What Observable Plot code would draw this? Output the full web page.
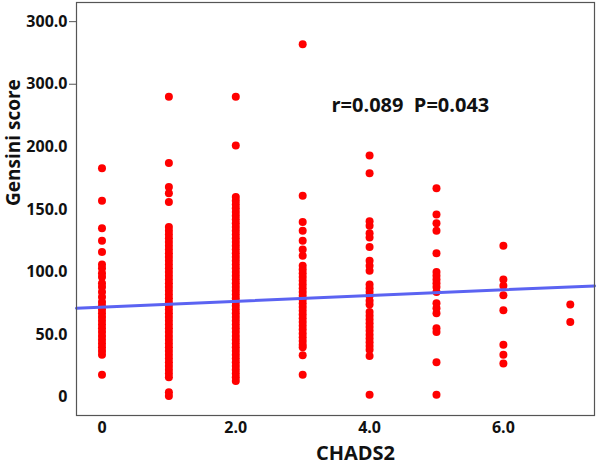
<!DOCTYPE html>
<html>
<head>
<meta charset="utf-8">
<script src="https://cdn.jsdelivr.net/npm/d3@7"></script>
<script src="https://cdn.jsdelivr.net/npm/@observablehq/plot@0.6"></script>
<style>
  html, body { margin: 0; padding: 0; background: #fff; }
  #chart svg { font-family: "Open Sans", "DejaVu Sans", sans-serif; }
</style>
</head>
<body>
<div id="chart"></div>
<script>
// CHADS2 categories and Gensini score values
const chads2 = [0, 1, 2, 3, 4, 5, 6, 7];
const gensini0 = [183, 157, 135, 125, 116, 106, 103, 99, 96, 91, 88, 84, 80, 76, 73, 70, 67, 64, 61, 58, 55, 52, 49, 46, 43, 40, 37, 34, 18];
const gensini1 = [240, 187, 168, 163, 156, 136, 133, 130, 127, 124, 121, 118, 115, 112, 109, 106, 103, 100, 97, 94, 91, 88, 85, 82, 79, 76, 73, 70, 67, 64, 61, 58, 55, 52, 49, 46, 43, 40, 37, 34, 31, 28, 25, 22, 19, 16, 4, 1];
const gensini2 = [240, 201, 160, 157, 154, 151, 148, 145, 142, 139, 136, 133, 130, 127, 124, 121, 118, 115, 112, 109, 106, 103, 100, 97, 94, 91, 88, 85, 82, 79, 76, 73, 70, 67, 64, 61, 58, 55, 52, 49, 46, 43, 40, 37, 34, 31, 28, 25, 22, 19, 16, 13];
const gensini3 = [282, 161, 140, 133, 125, 118, 113, 105, 102, 99, 96, 93, 90, 87, 84, 81, 78, 75, 72, 69, 66, 63, 60, 57, 54, 51, 48, 45, 42, 40, 33.5, 18];
const gensini4 = [193, 179, 140.5, 137, 131, 127.5, 120, 109, 105, 101, 90, 87, 84, 81, 77, 74, 68, 65, 62, 59, 56, 53, 50, 47, 44, 41, 38, 33, 2];
const gensini5 = [167, 146, 139, 133, 115, 100, 97, 94, 91, 88, 84, 75, 71, 67, 55, 52, 28, 2];
const gensini6 = [121, 94, 89, 81.5, 69.5, 42, 34, 27];
const gensini7 = [74, 60];
const seriesByCategory = [gensini0, gensini1, gensini2, gensini3, gensini4, gensini5, gensini6, gensini7];

// Fitted line
const fitIntercept = 72;
const fitSlope = 2.3;

// Axes
const xTicks = [0, 2, 4, 6];
const xTickLabels = ["0", "2.0", "4.0", "6.0"];
const yTicks = [0, 50, 100, 150, 200, 250, 300];
const yTickLabels = ["0", "50.0", "100.0", "150.0", "200.0", "300.0", "300.0"];
const yTickMarks = [250, 300];
const xDomain = [-0.381, 7.362];
const yDomain = [-14.6, 315.3];
const xLabel = "CHADS2";
const yLabel = "Gensini score";
const annotation = {x: 4.61, y: 233, text: "r=0.089 \u00a0P=0.043"};

const points = [];
chads2.forEach((c, i) => seriesByCategory[i].forEach(v => points.push({chads2: c, gensini: v})));
const fitLine = xDomain.map(x => ({x, y: fitIntercept + fitSlope * x}));

const chart = Plot.plot({
  width: 597,
  height: 466,
  marginLeft: 76,
  marginRight: 3,
  marginTop: 2,
  marginBottom: 51,
  style: {fontFamily: '"Open Sans", sans-serif', fontWeight: "bold", color: "#111", background: "#fff", overflow: "visible"},
  x: {domain: xDomain, axis: null},
  y: {domain: yDomain, axis: null},
  marks: [
    Plot.axisY({ticks: yTicks, tickSize: 0, tickPadding: 9, fontSize: 16, fontWeight: "bold",
      tickFormat: d => yTickLabels[yTicks.indexOf(d)]}),
    Plot.axisY({ticks: yTickMarks, tickSize: 7, stroke: "#555", tickFormat: () => ""}),
    Plot.axisX({ticks: xTicks, tickSize: 0, tickPadding: 6, fontSize: 16, fontWeight: "bold",
      tickFormat: d => xTickLabels[xTicks.indexOf(d)]}),
    Plot.dot(points, {x: "chads2", y: "gensini", r: 4, fill: "#ff0000", stroke: "none"}),
    Plot.line(fitLine, {x: "x", y: "y", stroke: "#5b63f2", strokeWidth: 3}),
    Plot.frame({stroke: "#555", strokeWidth: 1.2}),
    Plot.text([annotation], {x: "x", y: "y", text: "text", fontSize: 20, fontWeight: "bold", fill: "#111"}),
    Plot.text([xLabel], {frameAnchor: "bottom", dx: 20, dy: 44, fontSize: 20, fontWeight: "bold", fill: "#111"}),
    Plot.text([yLabel], {frameAnchor: "left", rotate: -90, dx: -63, dy: -3, fontSize: 19, fontWeight: "bold", fill: "#111"})
  ]
});
document.getElementById("chart").appendChild(chart);
</script>
</body>
</html>
